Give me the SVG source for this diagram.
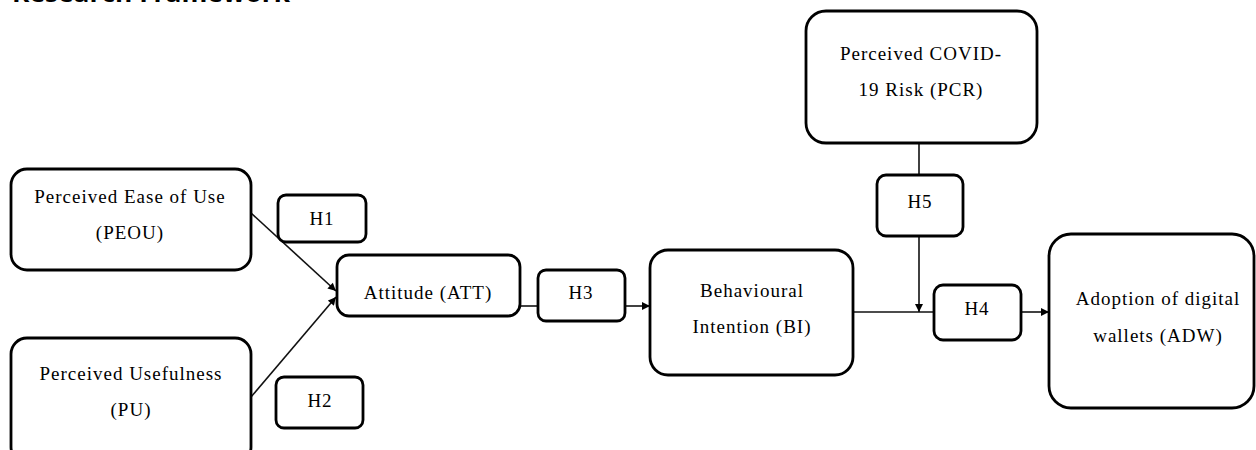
<svg xmlns="http://www.w3.org/2000/svg" width="1256" height="450" viewBox="0 0 1256 450">
<style>
.box{fill:#fff;stroke:#000;stroke-width:2.8}
.t{font-family:"Liberation Serif","Times New Roman",serif;font-size:19px;letter-spacing:1px;fill:#000;text-anchor:middle}
.ln{stroke:#111;stroke-width:1.6;fill:none}
.title{font-family:"Open Sans","Liberation Sans",sans-serif;font-weight:bold;font-size:25px;fill:#000}
</style>
<defs>
<marker id="ah" viewBox="0 0 10 10" refX="10" refY="5" markerWidth="9" markerHeight="8" markerUnits="userSpaceOnUse" orient="auto">
<path d="M0,0 L10,5 L0,10 Z" fill="#000"/>
</marker>
</defs>
<rect width="1256" height="450" fill="#fff"/>
<text class="title" x="12" y="2" textLength="278" lengthAdjust="spacingAndGlyphs">Research Framework</text>
<g id="connectors">
<line class="ln" x1="251" y1="213" x2="336" y2="291" marker-end="url(#ah)"/>
<line class="ln" x1="251" y1="397" x2="336" y2="297" marker-end="url(#ah)"/>
<line class="ln" x1="520" y1="306" x2="538" y2="306"/>
<line class="ln" x1="625" y1="306" x2="650" y2="306" marker-end="url(#ah)"/>
<line class="ln" x1="853" y1="312" x2="934" y2="312"/>
<line class="ln" x1="1021" y1="312" x2="1049" y2="312" marker-end="url(#ah)"/>
<line class="ln" x1="919" y1="143" x2="919" y2="175"/>
<line class="ln" x1="919" y1="236" x2="919" y2="312" marker-end="url(#ah)"/>
</g>
<g id="PEOU">
<rect class="box" x="11" y="169" width="240" height="101" rx="16"/>
<text class="t" x="130" y="203">Perceived Ease of Use</text>
<text class="t" x="130" y="239">(PEOU)</text>
</g>
<g id="PU">
<rect class="box" x="11" y="338" width="240" height="125" rx="16"/>
<text class="t" x="131" y="380">Perceived Usefulness</text>
<text class="t" x="131" y="416">(PU)</text>
</g>
<g id="H1">
<rect class="box" x="278" y="195" width="88" height="47" rx="8"/>
<text class="t" x="322" y="225">H1</text>
</g>
<g id="H2">
<rect class="box" x="276" y="377" width="87" height="51" rx="8"/>
<text class="t" x="320" y="407">H2</text>
</g>
<g id="ATT">
<rect class="box" x="337" y="255" width="183" height="61" rx="12"/>
<text class="t" x="428" y="299">Attitude (ATT)</text>
</g>
<g id="H3">
<rect class="box" x="538" y="270" width="87" height="51" rx="8"/>
<text class="t" x="581" y="299">H3</text>
</g>
<g id="BI">
<rect class="box" x="650" y="250" width="203" height="125" rx="18"/>
<text class="t" x="752" y="297">Behavioural</text>
<text class="t" x="752" y="333">Intention (BI)</text>
</g>
<g id="PCR">
<rect class="box" x="806" y="11" width="231" height="132" rx="20"/>
<text class="t" x="921" y="60">Perceived COVID-</text>
<text class="t" x="921" y="96">19 Risk (PCR)</text>
</g>
<g id="H5">
<rect class="box" x="877" y="175" width="86" height="61" rx="9"/>
<text class="t" x="920" y="208">H5</text>
</g>
<g id="H4">
<rect class="box" x="934" y="285" width="87" height="55" rx="9"/>
<text class="t" x="977" y="315">H4</text>
</g>
<g id="ADW">
<rect class="box" x="1049" y="234" width="205" height="174" rx="22"/>
<text class="t" x="1158" y="305">Adoption of digital</text>
<text class="t" x="1158" y="342">wallets (ADW)</text>
</g>
</svg>
